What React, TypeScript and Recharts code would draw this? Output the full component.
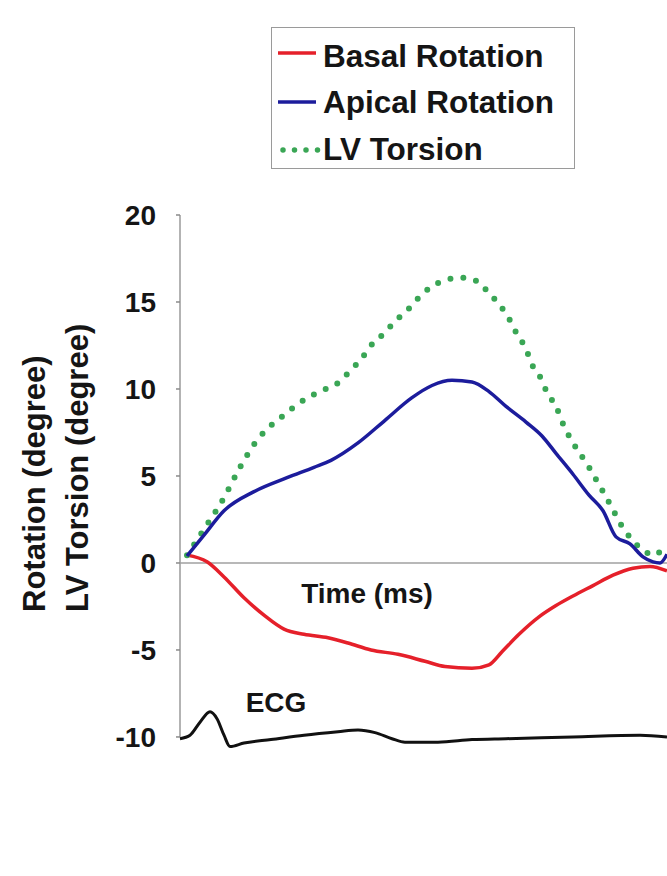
import {
  ComposedChart,
  Legend,
  Line,
  ReferenceDot,
  ReferenceLine,
  XAxis,
  YAxis,
} from 'recharts'

// time in ms (0 = start of cycle), value in degrees
const basal = [
  [7, 0.45], [27, 0.07], [44, -0.8], [64, -2.0], [84, -3.0], [104, -3.8], [124, -4.1],
  [148, -4.3], [168, -4.6], [191, -5.0], [218, -5.25], [245, -5.65], [265, -5.95],
  [292, -6.05], [309, -5.85], [322, -5.1], [339, -4.1], [359, -3.1], [376, -2.45],
  [393, -1.9], [413, -1.3], [433, -0.7], [453, -0.3], [470, -0.2], [487, -0.45],
]

const apical = [
  [7, 0.4], [24, 1.6], [44, 3.0], [74, 4.1], [107, 4.9], [134, 5.5], [151, 5.9],
  [178, 6.9], [205, 8.2], [232, 9.5], [252, 10.2], [272, 10.5], [292, 10.4],
  [309, 9.85], [326, 9.0], [346, 8.1], [362, 7.3], [376, 6.3], [393, 5.1], [409, 3.9],
  [423, 3.0], [436, 1.5], [450, 1.1], [463, 0.35], [473, 0.06], [480, 0.0], [487, 0.5],
]

const torsion = [
  [7, 0.45], [27, 2.2], [44, 3.75], [60, 5.5], [77, 7.05], [91, 7.9], [104, 8.5],
  [117, 9.1], [131, 9.6], [144, 9.95], [158, 10.35], [171, 11.1], [181, 11.7],
  [191, 12.5], [205, 13.25], [215, 13.9], [227, 14.5], [238, 15.2], [252, 15.9],
  [265, 16.25], [282, 16.4], [297, 16.2], [309, 15.5], [320, 14.8], [329, 14.05],
  [337, 13.15], [346, 12.3], [352, 11.4], [361, 10.6], [367, 9.8], [376, 9.0],
  [383, 8.0], [391, 7.1], [398, 6.45], [408, 5.6], [416, 4.8], [425, 3.9], [433, 3.05],
  [441, 2.2], [451, 1.4], [463, 0.75], [473, 0.45], [483, 0.85], [487, 1.2],
]

const ecg = [
  [0, -10.1], [10, -9.9], [20, -9.15], [30, -8.55], [37, -8.95], [44, -9.9], [50, -10.55],
  [64, -10.35], [91, -10.15], [124, -9.9], [158, -9.7], [178, -9.6], [195, -9.75],
  [212, -10.1], [225, -10.3], [258, -10.3], [292, -10.15], [326, -10.1], [393, -10.0],
  [460, -9.9], [487, -10.0],
]

const Y_TICKS = [-10, -5, 0, 5, 10, 15, 20]

const toRows = (pts: number[][]) => pts.map(([t, v]) => ({ t, v }))

const RED = '#e5202a'
const BLUE = '#1c1c9c'
const GREEN = '#3aa655'
const FONT = '"Liberation Sans", Arial, sans-serif'

function LegendBox() {
  return (
    <svg width={305} height={143} style={{ display: 'block' }}>
      <rect x={0.5} y={0.5} width={303} height={141} fill="#fff" stroke="#9a9a9a" />
      <line x1={7} x2={45} y1={26} y2={26} stroke={RED} strokeWidth={3.5} />
      <line x1={7} x2={45} y1={75} y2={75} stroke={BLUE} strokeWidth={3.5} />
      <line x1={12} x2={48} y1={123} y2={123} stroke={GREEN} strokeWidth={5.5} strokeDasharray="0 11.5" strokeLinecap="round" />
      <g fontSize={31.5} fontWeight="bold" fill="#151515">
        <text x={52} y={40}>Basal Rotation</text>
        <text x={52} y={86}>Apical Rotation</text>
        <text x={52} y={133}>LV Torsion</text>
      </g>
    </svg>
  )
}

function YLabel(props: any) {
  const vb = props.viewBox
  const y = vb.y + 397
  return (
    <g fontSize={31} fontWeight="bold" fill="#151515">
      <text transform={`translate(${vb.x + 45}, ${y}) rotate(-90)`}>Rotation (degree)</text>
      <text transform={`translate(${vb.x + 88}, ${y}) rotate(-90)`}>LV Torsion (degree)</text>
    </g>
  )
}

export default function App() {
  return (
    <div style={{ position: 'absolute', left: 0, top: 0, width: 667, height: 876, background: '#fff', fontFamily: FONT, overflow: 'hidden' }}>
      <ComposedChart width={667} height={876} margin={{ top: 215, right: 0, bottom: 128.6, left: 0 }}>
        <XAxis type="number" dataKey="t" domain={[0, 487]} hide />
        <YAxis
          type="number"
          domain={[-10.6, 20]}
          ticks={Y_TICKS}
          width={180}
          axisLine={false}
          tickLine={{ stroke: '#8a8a8a', strokeWidth: 1.5 }}
          tickSize={4}
          tickMargin={20}
          tick={{ fontSize: 28, fontWeight: 'bold', fill: '#151515' }}
          label={YLabel}
        />
        <ReferenceLine segment={[{ x: 0, y: -10 }, { x: 0, y: 20 }]} stroke="#9a9a9a" strokeWidth={1.5} />
        <ReferenceLine y={0} stroke="#a0a0a0" strokeWidth={1.5} />
        <Legend
          layout="horizontal"
          verticalAlign="middle"
          align="center"
          wrapperStyle={{ top: 27, left: 271, width: 305 }}
          content={() => <LegendBox />}
        />
        <Line data={toRows(ecg)} dataKey="v" type="monotone" stroke="#111" strokeWidth={3} dot={false} isAnimationActive={false} />
        <Line data={toRows(basal)} dataKey="v" type="monotone" stroke={RED} strokeWidth={3.5} dot={false} isAnimationActive={false} />
        <Line data={toRows(torsion)} dataKey="v" type="monotone" stroke={GREEN} strokeWidth={6} strokeDasharray="0 13" strokeLinecap="round" dot={false} isAnimationActive={false} />
        <Line data={toRows(apical)} dataKey="v" type="monotone" stroke={BLUE} strokeWidth={3.5} dot={false} isAnimationActive={false} />
        <ReferenceDot x={187} y={-1.71} r={0} stroke="none" fill="none" label={{ value: 'Time (ms)', position: 'center', fontSize: 28, fontWeight: 'bold', fill: '#151515' }} />
        <ReferenceDot x={96} y={-8.0} r={0} stroke="none" fill="none" label={{ value: 'ECG', position: 'center', fontSize: 28, fontWeight: 'bold', fill: '#151515' }} />
      </ComposedChart>
    </div>
  )
}
